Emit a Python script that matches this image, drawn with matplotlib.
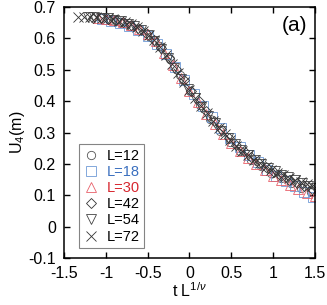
import matplotlib
matplotlib.use("Agg")
import matplotlib.pyplot as plt
from matplotlib.lines import Line2D

plt.rcParams['font.family'] = ['Liberation Sans', 'DejaVu Sans']
plt.rcParams['mathtext.fontset'] = 'custom'
plt.rcParams['mathtext.rm'] = 'Liberation Sans'
plt.rcParams['mathtext.it'] = 'Liberation Sans:italic'
plt.rcParams['axes.unicode_minus'] = False

# data
x12 = [-0.95, -0.83, -0.71, -0.59, -0.47, -0.35, -0.23, -0.11, 0.01, 0.13, 0.25,
       0.37, 0.49, 0.61, 0.73, 0.85, 0.97, 1.09, 1.21, 1.33, 1.45]
y12 = [0.660, 0.651, 0.641, 0.627, 0.606, 0.576, 0.533, 0.482, 0.432, 0.387, 0.344,
       0.306, 0.271, 0.240, 0.214, 0.192, 0.172, 0.155, 0.139, 0.124, 0.110]

x18 = [-1.05, -0.94, -0.83, -0.72, -0.61, -0.50, -0.39, -0.28, -0.17, -0.06, 0.05,
       0.16, 0.27, 0.38, 0.49, 0.60, 0.71, 0.82, 0.93, 1.04, 1.15, 1.26, 1.37, 1.48]
y18 = [0.662, 0.657, 0.650, 0.640, 0.627, 0.608, 0.583, 0.550, 0.510, 0.467, 0.424,
       0.385, 0.349, 0.315, 0.283, 0.254, 0.229, 0.205, 0.182, 0.163, 0.145, 0.128, 0.110, 0.093]

x30 = [-1.1, -1.0, -0.9, -0.8, -0.7, -0.6, -0.5, -0.4, -0.3, -0.2, -0.1, 0.0, 0.1,
       0.2, 0.3, 0.4, 0.5, 0.6, 0.7, 0.8, 0.9, 1.0, 1.1, 1.2, 1.3, 1.4, 1.5]
y30 = [0.665, 0.663, 0.659, 0.652, 0.643, 0.631, 0.614, 0.591, 0.553, 0.515, 0.473, 0.433, 0.396,
       0.360, 0.326, 0.295, 0.266, 0.241, 0.219, 0.199, 0.181, 0.163, 0.148, 0.134, 0.120, 0.108, 0.098]

x42 = [-1.15, -1.06, -0.97, -0.88, -0.79, -0.70, -0.61, -0.52, -0.43, -0.34, -0.25,
       -0.16, -0.07, 0.02, 0.11, 0.20, 0.29, 0.38, 0.47, 0.56, 0.65, 0.74, 0.83, 0.92,
       1.01, 1.10, 1.19, 1.28, 1.37, 1.46]
y42 = [0.666, 0.665, 0.663, 0.659, 0.652, 0.644, 0.633, 0.617, 0.596, 0.568, 0.536,
       0.501, 0.466, 0.432, 0.399, 0.368, 0.338, 0.310, 0.284, 0.261, 0.240, 0.221, 0.204, 0.189,
       0.175, 0.162, 0.150, 0.139, 0.129, 0.119]

x54 = [-1.22, -1.14, -1.06, -0.98, -0.90, -0.82, -0.74, -0.66, -0.58, -0.50, -0.42, -0.34,
       -0.26, -0.18, -0.10, -0.02, 0.06, 0.14, 0.22, 0.30, 0.38, 0.46, 0.54, 0.62, 0.70,
       0.78, 0.86, 0.94, 1.02, 1.10, 1.18, 1.26, 1.34, 1.42, 1.50]
y54 = [0.667, 0.667, 0.666, 0.664, 0.660, 0.654, 0.647, 0.639, 0.627, 0.611, 0.591, 0.566,
       0.537, 0.505, 0.472, 0.440, 0.410, 0.381, 0.354, 0.329, 0.305, 0.283, 0.262, 0.244, 0.228,
       0.213, 0.199, 0.187, 0.176, 0.166, 0.157, 0.148, 0.139, 0.131, 0.124]

x72 = [-1.33, -1.26, -1.19, -1.12, -1.05, -0.98, -0.91, -0.84, -0.77, -0.70, -0.63, -0.56,
       -0.49, -0.42, -0.35, -0.28, -0.21, -0.14, -0.07, 0.00, 0.07, 0.14, 0.21, 0.28, 0.35,
       0.42, 0.49, 0.56, 0.63, 0.70, 0.77, 0.84, 0.91, 0.98, 1.05, 1.12, 1.19, 1.26, 1.33,
       1.40, 1.47]
y72 = [0.668, 0.668, 0.667, 0.667, 0.666, 0.665, 0.662, 0.657, 0.651, 0.645, 0.636, 0.625,
       0.612, 0.594, 0.572, 0.547, 0.519, 0.490, 0.461, 0.434, 0.410, 0.385, 0.361, 0.338, 0.316,
       0.295, 0.276, 0.258, 0.242, 0.228, 0.214, 0.202, 0.191, 0.181, 0.172, 0.164, 0.156, 0.149, 0.142,
       0.135, 0.129]

labels = ['L=12', 'L=18', 'L=30', 'L=42', 'L=54', 'L=72']
xs = [x12, x18, x30, x42, x54, x72]
ys = [y12, y18, y30, y42, y54, y72]
markers = ['o', 's', '^', 'D', 'v', 'x']
msizes = [6, 6.5, 6.5, 5.5, 6.5, 7]
colors = ['#555555', '#6f9ad6', '#e8606a', '#333333', '#444444', '#333333']
text_colors = ['black', '#3a6fbf', '#d7262e', 'black', 'black', 'black']

fig = plt.figure(figsize=(3.27, 3.05), dpi=100)
ax = fig.add_axes([0.196, 0.154, 0.767, 0.823])

for x, y, m, ms, c in zip(xs, ys, markers, msizes, colors):
    ax.plot(x, y, linestyle='none', marker=m, markersize=ms, markerfacecolor='none',
            markeredgecolor=c, markeredgewidth=0.6)

ax.set_xlim(-1.5, 1.5)
ax.set_ylim(-0.1, 0.7)
ax.set_xticks([-1.5, -1, -0.5, 0, 0.5, 1, 1.5])
ax.set_xticklabels(['-1.5', '-1', '-0.5', '0', '0.5', '1', '1.5'])
ax.set_yticks([-0.1, 0, 0.1, 0.2, 0.3, 0.4, 0.5, 0.6, 0.7])
ax.set_yticklabels(['-0.1', '0', '0.1', '0.2', '0.3', '0.4', '0.5', '0.6', '0.7'])
ax.tick_params(direction='in', top=True, right=True, length=4, width=1, labelsize=11.5, pad=6)
for s in ax.spines.values():
    s.set_linewidth(1.1)

ax.set_xlabel(r't L$^{1/\nu}$', fontsize=11.5, labelpad=0)
ax.set_ylabel(r'U$_4$(m)', fontsize=11.5, labelpad=1)
ax.text(0.968, 0.928, '(a)', transform=ax.transAxes, ha='right', va='center', fontsize=15)

handles = [Line2D([], [], linestyle='none', marker=m, markersize=ms, markerfacecolor='none',
                  markeredgecolor=c, markeredgewidth=0.6)
           for m, ms, c in zip(markers, msizes, colors)]
leg = ax.legend(handles, labels, loc='lower left', bbox_to_anchor=(0.06, 0.04),
                fontsize=10.5, frameon=True, fancybox=False, edgecolor='#666666',
                handlelength=1.0, handletextpad=0.6, labelspacing=0.15,
                borderpad=0.3, borderaxespad=0)
leg.get_frame().set_linewidth(0.8)
for t, tc in zip(leg.get_texts(), text_colors):
    t.set_color(tc)

fig.savefig('out.png', dpi=100)
